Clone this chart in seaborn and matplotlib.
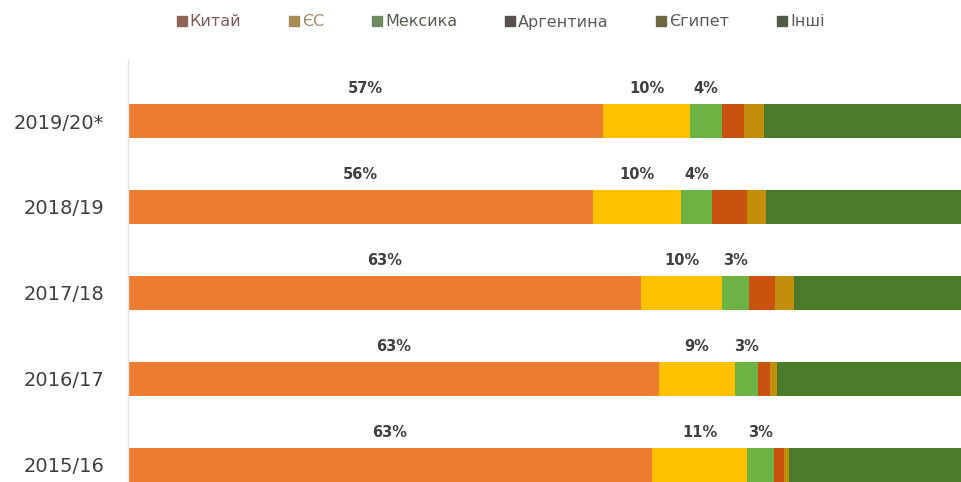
import pandas as pd
import seaborn as sns
import matplotlib.pyplot as plt
from matplotlib.lines import Line2D

sns.set_style("white")
plt.rcParams["font.family"] = ["DejaVu Sans"]

years = ["2019/20*", "2018/19", "2017/18", "2016/17", "2015/16"]
series_names = ["Китай", "ЄС", "Мексика", "Аргентина", "Єгипет", "Інші"]

china = [57.0, 55.8, 61.6, 63.7, 62.9]
eu = [10.5, 10.6, 9.7, 9.2, 11.4]
mexico = [3.8, 3.7, 3.2, 2.7, 3.2]
argentina = [2.6, 4.2, 3.2, 1.5, 1.2]
egypt = [2.4, 2.3, 2.2, 0.8, 0.6]
others = [23.7, 23.4, 20.1, 22.1, 20.7]

china_labels = ["57%", "56%", "63%", "63%", "63%"]
eu_labels = ["10%", "10%", "10%", "9%", "11%"]
mexico_labels = ["4%", "4%", "3%", "3%", "3%"]

bar_colors = ["#ED7D31", "#FFC000", "#6DB344", "#C9520F", "#C28E0C", "#4C7A2B"]
legend_colors = ["#8E6656", "#A88C55", "#6F8C62", "#58504C", "#6C6842", "#505C48"]
legend_text_colors = ["#7B5A50", "#9C8C6C", "#4F5F48", "#5A5A5A", "#5A5A5A", "#5A5A5A"]

df = pd.DataFrame(
    {"year": years, "Китай": china, "ЄС": eu, "Мексика": mexico,
     "Аргентина": argentina, "Єгипет": egypt, "Інші": others}
)
cum = df[series_names].cumsum(axis=1)
cum["year"] = df["year"]

fig = plt.figure(figsize=(9.61, 4.82), dpi=100)
ax = fig.add_axes([128 / 961, 0, 833 / 961, (482 - 60) / 482])

# stacked bars: draw cumulative totals from the longest down
for name, color in reversed(list(zip(series_names, bar_colors))):
    sns.barplot(data=cum, x=name, y="year", color=color, orient="h",
                width=0.4, ax=ax, saturation=1, linewidth=0)

# value labels above the first three segments
for i in range(len(years)):
    starts = [0, china[i], china[i] + eu[i]]
    widths = [china[i], eu[i], mexico[i]]
    texts = [china_labels[i], eu_labels[i], mexico_labels[i]]
    for s, w, t in zip(starts, widths, texts):
        ax.text(s + w / 2, i - 0.38, t, ha="center", va="center",
                fontsize=10.5, fontweight="bold", color="#404040")

ax.set_xlim(0, 100)
ax.set_ylim(4.2, -0.71)
ax.set_xlabel("")
ax.set_ylabel("")
ax.set_xticks([])
ax.tick_params(axis="y", length=0, labelsize=14, labelcolor="#404040", pad=17)
for side in ["top", "right", "bottom"]:
    ax.spines[side].set_visible(False)
ax.spines["left"].set_color("#e4e4e4")
ax.spines["left"].set_linewidth(1)

handles = [Line2D([], [], marker="s", linestyle="", color=c, markersize=7)
           for c in legend_colors]
leg = fig.legend(handles, series_names, loc="center", ncol=6, frameon=False,
                 bbox_to_anchor=(500 / 961, 1 - 22 / 482), fontsize=11.5,
                 handletextpad=0.1, columnspacing=2.9, handlelength=0.8)
for txt, c in zip(leg.get_texts(), legend_text_colors):
    txt.set_color(c)

fig.savefig("out.png", dpi=100)
